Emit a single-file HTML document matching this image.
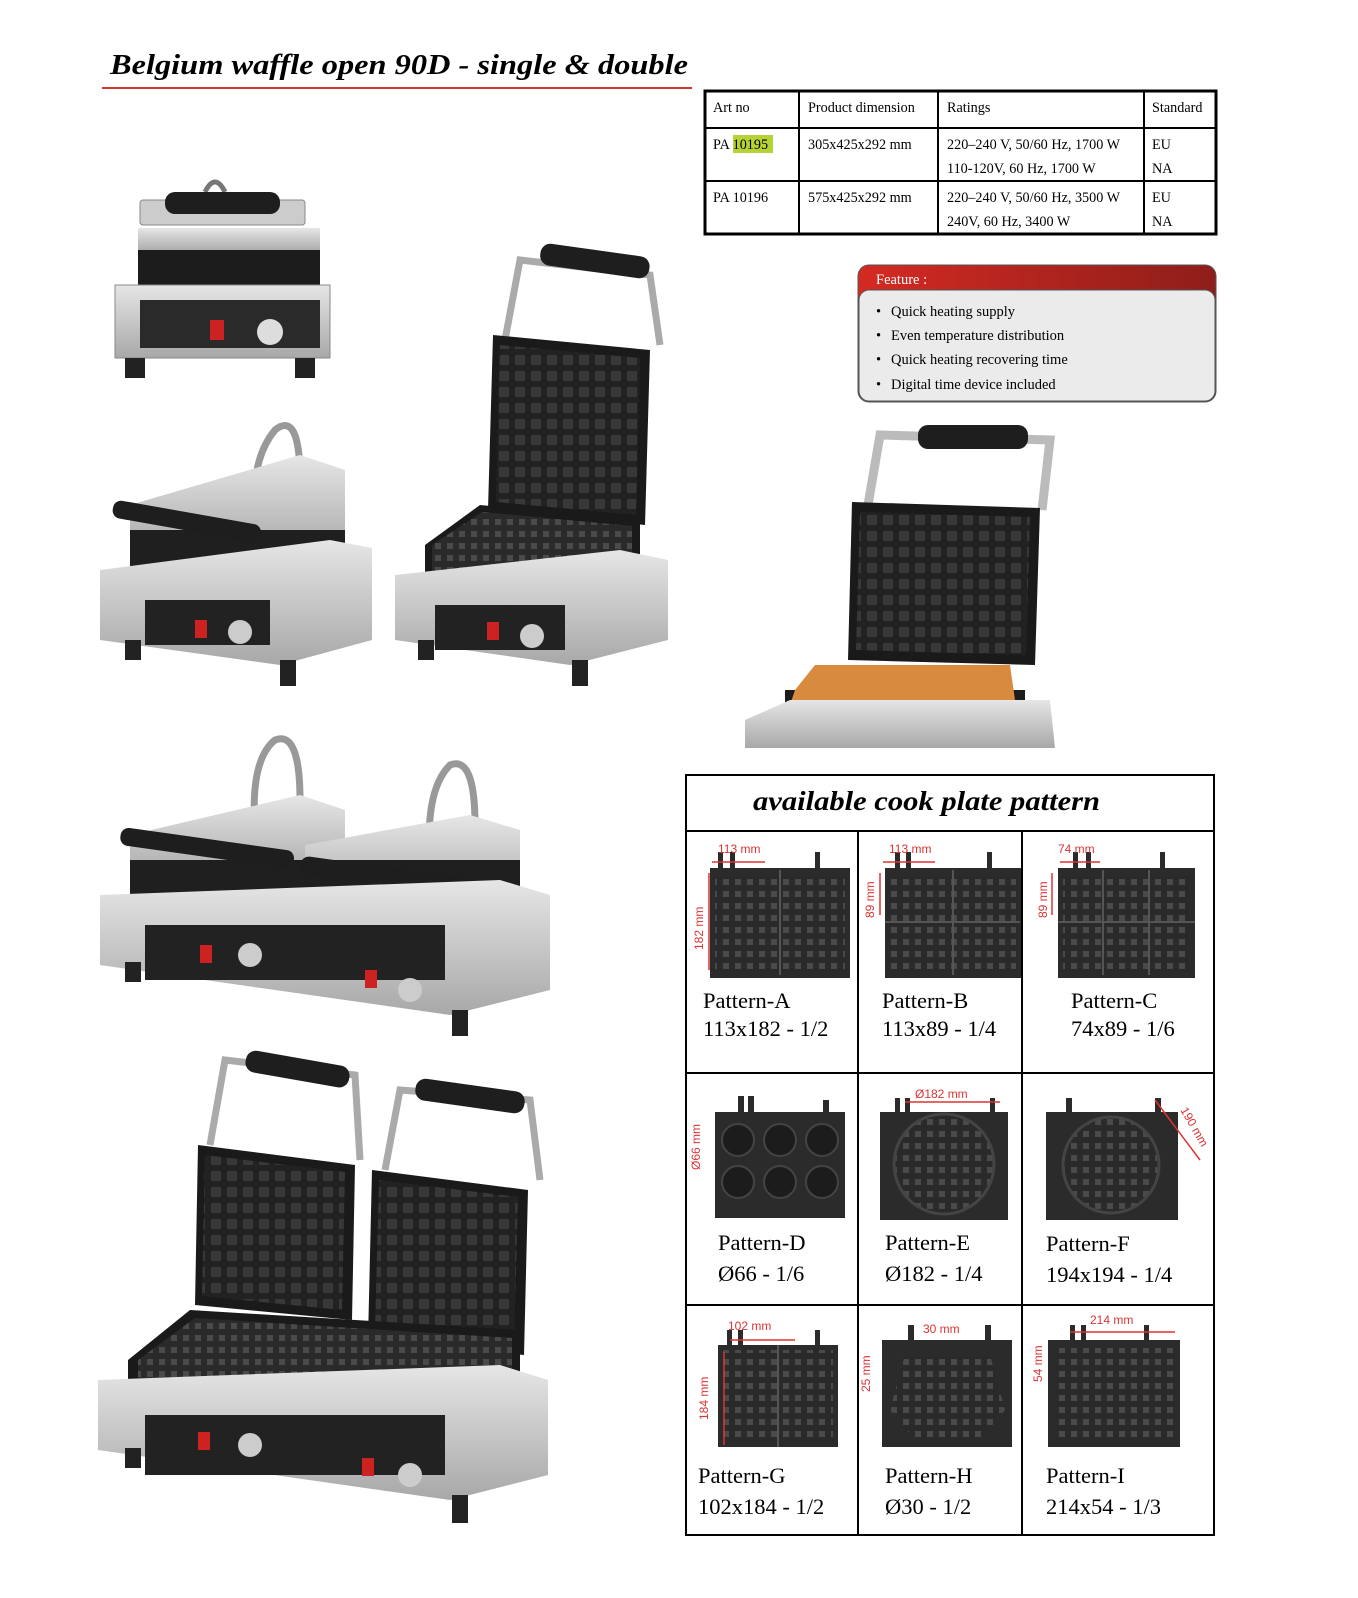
<!DOCTYPE html>
<html><head><meta charset="utf-8"><style>
html,body{margin:0;padding:0;background:#fff}
svg{display:block}
.s{font-family:"Liberation Serif",serif}
</style></head><body>
<svg width="1358" height="1598" viewBox="0 0 1358 1598" xmlns="http://www.w3.org/2000/svg" class="s">
<defs>
<pattern id="grid" width="12" height="12" patternUnits="userSpaceOnUse"><rect width="12" height="12" fill="#2a2a2a"/><rect x="3" y="3" width="6" height="6" fill="#4a4a4a"/></pattern>
<pattern id="grid2" width="16" height="16" patternUnits="userSpaceOnUse"><rect width="16" height="16" fill="#222"/><rect x="3" y="3" width="10" height="10" fill="#383838"/></pattern>
<linearGradient id="red" x1="0" x2="1"><stop offset="0" stop-color="#d42a22"/><stop offset="1" stop-color="#8e1e1a"/></linearGradient>
<linearGradient id="steel" x1="0" x2="0" y1="0" y2="1"><stop offset="0" stop-color="#e6e6e6"/><stop offset="1" stop-color="#a8a8a8"/></linearGradient>
</defs>

<!-- Title -->
<text x="110" y="74" font-size="29" font-weight="bold" font-style="italic" textLength="578" lengthAdjust="spacingAndGlyphs">Belgium waffle open 90D - single &amp; double</text>
<rect x="102" y="87" width="590" height="2" fill="#d0392e"/>

<!-- Table -->
<g fill="none" stroke="#000">
<rect x="705" y="91" width="511" height="143" stroke-width="3"/>
<line x1="705" y1="128" x2="1216" y2="128" stroke-width="2"/>
<line x1="705" y1="181" x2="1216" y2="181" stroke-width="2"/>
<line x1="799" y1="91" x2="799" y2="234" stroke-width="2"/>
<line x1="938" y1="91" x2="938" y2="234" stroke-width="2"/>
<line x1="1144" y1="91" x2="1144" y2="234" stroke-width="2"/>
</g>
<rect x="733" y="135" width="40" height="18" fill="#b5d334"/>
<g font-size="14.2">
<text x="713" y="112">Art no</text><text x="808" y="112">Product dimension</text><text x="947" y="112">Ratings</text><text x="1152" y="112">Standard</text>
<text x="713" y="149">PA 10195</text><text x="808" y="149">305x425x292 mm</text><text x="947" y="149">220–240 V, 50/60 Hz, 1700 W</text><text x="947" y="173">110-120V, 60 Hz, 1700 W</text><text x="1152" y="149">EU</text><text x="1152" y="173">NA</text>
<text x="713" y="202">PA 10196</text><text x="808" y="202">575x425x292 mm</text><text x="947" y="202">220–240 V, 50/60 Hz, 3500 W</text><text x="947" y="226">240V, 60 Hz, 3400 W</text><text x="1152" y="202">EU</text><text x="1152" y="226">NA</text>
</g>

<!-- Feature -->
<rect x="858" y="265" width="358" height="137" rx="11" fill="url(#red)" stroke="#555"/>
<rect x="859" y="290" width="356" height="111" rx="10" fill="#ebebeb" stroke="#555"/>
<text x="876" y="284" font-size="14.5" fill="#fff">Feature :</text>
<g font-size="14.5"><text x="876" y="316">•</text><text x="891" y="316">Quick heating supply</text>
<text x="876" y="340">•</text><text x="891" y="340">Even temperature distribution</text>
<text x="876" y="364">•</text><text x="891" y="364">Quick heating recovering time</text>
<text x="876" y="389">•</text><text x="891" y="389">Digital time device included</text></g>

<!-- Machine 1: front view -->
<g>
<path d="M205 192 q10-20 20 0" stroke="#777" stroke-width="5" fill="none"/>
<rect x="140" y="200" width="165" height="25" rx="3" fill="#ccc" stroke="#888"/>
<rect x="165" y="192" width="115" height="22" rx="10" fill="#1e1e1e"/>
<rect x="138" y="228" width="182" height="24" fill="url(#steel)"/>
<rect x="138" y="250" width="182" height="35" fill="#1c1c1c"/>
<rect x="115" y="285" width="215" height="73" fill="url(#steel)" stroke="#888"/>
<rect x="140" y="300" width="180" height="48" fill="#2a2a2a"/>
<rect x="210" y="320" width="14" height="20" fill="#c22"/>
<circle cx="270" cy="332" r="13" fill="#ddd"/>
<rect x="125" y="358" width="20" height="20" fill="#222"/><rect x="295" y="358" width="20" height="20" fill="#222"/>
</g>

<!-- Machine 2: single closed -->
<g>
<path d="M255 520 q-5-60 20-90 q25-20 25 50" stroke="#999" stroke-width="7" fill="none"/>
<polygon points="130,505 300,455 345,470 345,545 130,555" fill="url(#steel)"/>
<rect x="130" y="530" width="215" height="60" fill="#1f1f1f"/>
<rect x="112" y="512" width="150" height="18" rx="8" fill="#1e1e1e" transform="rotate(10 185 520)"/>
<polygon points="100,570 330,540 372,548 372,640 280,665 100,640" fill="url(#steel)"/>
<rect x="145" y="600" width="125" height="45" fill="#222"/>
<rect x="195" y="620" width="12" height="18" fill="#c22"/><circle cx="240" cy="632" r="12" fill="#ccc"/>
<rect x="125" y="640" width="16" height="20" fill="#222"/><rect x="280" y="660" width="16" height="26" fill="#222"/>
</g>

<!-- Machine 3: single open -->
<g>
<path d="M505 340 L520 260 L650 275 L660 345" stroke="#aaa" stroke-width="7" fill="none"/>
<rect x="540" y="250" width="110" height="22" rx="10" fill="#1e1e1e" transform="rotate(8 595 260)"/>
<polygon points="493,335 650,350 645,525 488,510" fill="#1a1a1a"/>
<polygon points="500,345 640,358 636,515 496,502" fill="url(#grid2)"/>
<polygon points="425,545 480,505 640,520 640,580 425,580" fill="#1a1a1a"/>
<polygon points="432,545 482,512 632,526 632,572 432,572" fill="url(#grid)"/>
<polygon points="395,575 620,550 668,560 668,640 570,665 395,640" fill="url(#steel)"/>
<rect x="435" y="605" width="130" height="45" fill="#222"/>
<rect x="487" y="622" width="12" height="18" fill="#c22"/><circle cx="532" cy="636" r="12" fill="#ccc"/>
<rect x="418" y="640" width="16" height="20" fill="#222"/><rect x="572" y="660" width="16" height="26" fill="#222"/>
</g>

<!-- Machine 4: big open photo -->
<g>
<path d="M868 505 L880 435 L1050 440 L1042 510" stroke="#bbb" stroke-width="9" fill="none"/>
<rect x="918" y="425" width="110" height="24" rx="10" fill="#1e1e1e"/>
<polygon points="852,502 1040,508 1035,665 848,660" fill="#1a1a1a"/>
<polygon points="860,512 1030,517 1026,655 856,650" fill="url(#grid2)"/>
<rect x="785" y="690" width="240" height="30" fill="#1c1c1c"/>
<polygon points="795,690 815,665 1010,665 1015,700 790,705" fill="#d88a3f"/>
<polygon points="745,720 790,700 1050,700 1055,748 745,748" fill="url(#steel)"/>
</g>

<!-- Machine 5: double closed -->
<g>
<path d="M255 830 q-5-70 20-90 q25-10 25 60" stroke="#999" stroke-width="7" fill="none"/>
<path d="M430 860 q-5-70 20-95 q25-10 25 60" stroke="#999" stroke-width="7" fill="none"/>
<polygon points="130,835 300,795 345,810 345,880 130,880" fill="url(#steel)"/>
<polygon points="305,845 470,815 520,830 520,900 305,905" fill="url(#steel)"/>
<rect x="130" y="860" width="390" height="50" fill="#1f1f1f"/>
<rect x="120" y="838" width="175" height="18" rx="8" fill="#1e1e1e" transform="rotate(8 200 845)"/>
<rect x="300" y="868" width="175" height="18" rx="8" fill="#1e1e1e" transform="rotate(8 390 875)"/>
<polygon points="100,895 500,880 550,895 550,990 450,1015 100,965" fill="url(#steel)"/>
<rect x="145" y="925" width="300" height="55" fill="#222"/>
<rect x="200" y="945" width="12" height="18" fill="#c22"/><circle cx="250" cy="955" r="12" fill="#ccc"/>
<rect x="365" y="970" width="12" height="18" fill="#c22"/><circle cx="410" cy="990" r="12" fill="#ccc"/>
<rect x="125" y="962" width="16" height="20" fill="#222"/><rect x="452" y="1010" width="16" height="26" fill="#222"/>
</g>

<!-- Machine 6: double open -->
<g>
<path d="M210 1145 L225 1060 L355 1075 L360 1160" stroke="#aaa" stroke-width="7" fill="none"/>
<path d="M385 1170 L400 1090 L530 1100 L540 1180" stroke="#aaa" stroke-width="7" fill="none"/>
<rect x="245" y="1058" width="105" height="22" rx="10" fill="#1e1e1e" transform="rotate(10 297 1069)"/>
<rect x="415" y="1085" width="110" height="22" rx="10" fill="#1e1e1e" transform="rotate(8 470 1096)"/>
<polygon points="198,1145 355,1165 352,1320 195,1305" fill="#1a1a1a"/>
<polygon points="205,1155 345,1172 342,1310 202,1296" fill="url(#grid2)"/>
<polygon points="372,1170 528,1190 524,1355 368,1340" fill="#1a1a1a"/>
<polygon points="379,1180 518,1197 514,1345 375,1330" fill="url(#grid2)"/>
<polygon points="128,1360 190,1310 520,1330 520,1400 128,1400" fill="#1a1a1a"/>
<polygon points="138,1360 195,1318 512,1338 512,1392 138,1392" fill="url(#grid)"/>
<polygon points="98,1380 500,1365 548,1380 548,1475 450,1500 98,1450" fill="url(#steel)"/>
<rect x="145" y="1415" width="300" height="60" fill="#222"/>
<rect x="198" y="1432" width="12" height="18" fill="#c22"/><circle cx="250" cy="1445" r="12" fill="#ccc"/>
<rect x="362" y="1458" width="12" height="18" fill="#c22"/><circle cx="410" cy="1475" r="12" fill="#ccc"/>
<rect x="125" y="1448" width="16" height="20" fill="#222"/><rect x="452" y="1495" width="16" height="28" fill="#222"/>
</g>

<!-- Pattern grid -->
<g fill="none" stroke="#000" stroke-width="2">
<rect x="686" y="775" width="528" height="760"/>
<line x1="686" y1="831" x2="1214" y2="831"/>
<line x1="686" y1="1073" x2="1214" y2="1073"/>
<line x1="686" y1="1305" x2="1214" y2="1305"/>
<line x1="858" y1="831" x2="858" y2="1535"/>
<line x1="1022" y1="831" x2="1022" y2="1535"/>
</g>
<text x="753" y="810" font-size="27" font-weight="bold" font-style="italic" textLength="347" lengthAdjust="spacingAndGlyphs">available cook plate pattern</text>

<g fill="#2b2b2b">
<rect x="710" y="868" width="140" height="110"/><rect x="885" y="868" width="136" height="110"/><rect x="1058" y="868" width="137" height="110"/>
<rect x="715" y="1112" width="130" height="106"/><rect x="880" y="1112" width="128" height="108"/><rect x="1046" y="1112" width="132" height="108"/>
<rect x="718" y="1345" width="120" height="102"/><rect x="882" y="1340" width="130" height="107"/><rect x="1048" y="1340" width="132" height="107"/>
</g>
<g fill="url(#grid)">
<rect x="715" y="875" width="130" height="98"/><rect x="890" y="875" width="126" height="98"/><rect x="1063" y="875" width="127" height="98"/>
<rect x="723" y="1350" width="110" height="92"/>
</g>
<g stroke="#555" stroke-width="2" fill="none">
<line x1="780" y1="870" x2="780" y2="975"/><line x1="953" y1="870" x2="953" y2="975"/><line x1="885" y1="922" x2="1020" y2="922"/>
<line x1="1103" y1="870" x2="1103" y2="975"/><line x1="1149" y1="870" x2="1149" y2="975"/><line x1="1058" y1="922" x2="1195" y2="922"/>
<line x1="778" y1="1345" x2="778" y2="1447"/>
</g>
<g fill="#1c1c1c" stroke="#444" stroke-width="2">
<circle cx="738" cy="1140" r="16"/><circle cx="780" cy="1140" r="16"/><circle cx="822" cy="1140" r="16"/>
<circle cx="738" cy="1182" r="16"/><circle cx="780" cy="1182" r="16"/><circle cx="822" cy="1182" r="16"/>
</g>
<circle cx="944" cy="1164" r="50" fill="url(#grid)" stroke="#444" stroke-width="3"/>
<circle cx="1111" cy="1165" r="48" fill="url(#grid)" stroke="#444" stroke-width="3"/>
<polygon points="905,1355 990,1355 1005,1410 980,1440 915,1440 890,1410" fill="url(#grid)"/>
<rect x="1055" y="1348" width="120" height="92" fill="url(#grid)"/>
<g fill="#2b2b2b">
<rect x="738" y="1096" width="6" height="18"/><rect x="748" y="1096" width="6" height="18"/><rect x="823" y="1100" width="6" height="14"/>
<rect x="718" y="852" width="5" height="18"/><rect x="730" y="852" width="5" height="18"/><rect x="815" y="852" width="5" height="18"/>
<rect x="895" y="852" width="5" height="18"/><rect x="906" y="852" width="5" height="18"/><rect x="987" y="852" width="5" height="18"/>
<rect x="1073" y="852" width="5" height="18"/><rect x="1086" y="852" width="5" height="18"/><rect x="1160" y="852" width="5" height="18"/>
<rect x="895" y="1098" width="5" height="16"/><rect x="905" y="1098" width="5" height="16"/><rect x="990" y="1098" width="5" height="16"/>
<rect x="1066" y="1098" width="6" height="16"/><rect x="1155" y="1098" width="6" height="16"/>
<rect x="727" y="1330" width="5" height="16"/><rect x="738" y="1330" width="5" height="16"/><rect x="815" y="1330" width="5" height="16"/>
<rect x="908" y="1325" width="6" height="16"/><rect x="985" y="1325" width="6" height="16"/>
<rect x="1070" y="1325" width="5" height="16"/><rect x="1081" y="1325" width="5" height="16"/><rect x="1144" y="1325" width="5" height="16"/>
</g>
<!-- dimension labels -->
<g fill="#d33" font-family="Liberation Sans,sans-serif" font-size="12">
<text x="718" y="853">113 mm</text><text x="889" y="853">113 mm</text><text x="1058" y="853">74 mm</text>
<text x="915" y="1098">Ø182 mm</text><text x="728" y="1330">102 mm</text><text x="923" y="1333">30 mm</text><text x="1090" y="1324">214 mm</text>
<text transform="translate(703,950) rotate(-90)">182 mm</text><text transform="translate(874,918) rotate(-90)">89 mm</text><text transform="translate(1047,918) rotate(-90)">89 mm</text>
<text transform="translate(700,1170) rotate(-90)">Ø66 mm</text><text transform="translate(708,1420) rotate(-90)">184 mm</text><text transform="translate(870,1392) rotate(-90)">25 mm</text><text transform="translate(1042,1382) rotate(-90)">54 mm</text>
<text transform="translate(1180,1110) rotate(60)">190 mm</text>
</g>
<g stroke="#d33" stroke-width="1.5">
<line x1="712" y1="862" x2="765" y2="862"/><line x1="709" y1="873" x2="709" y2="970"/>
<line x1="883" y1="862" x2="935" y2="862"/><line x1="880" y1="873" x2="880" y2="915"/>
<line x1="1060" y1="862" x2="1100" y2="862"/><line x1="1052" y1="873" x2="1052" y2="915"/>
<line x1="905" y1="1102" x2="1000" y2="1102"/><line x1="1155" y1="1100" x2="1200" y2="1160"/>
<line x1="730" y1="1340" x2="795" y2="1340"/><line x1="724" y1="1352" x2="724" y2="1445"/>
<line x1="1070" y1="1332" x2="1175" y2="1332"/>
</g>
<g font-size="22.5">
<text x="703" y="1008">Pattern-A</text><text x="703" y="1036">113x182 - 1/2</text>
<text x="882" y="1008">Pattern-B</text><text x="882" y="1036">113x89 - 1/4</text>
<text x="1071" y="1008">Pattern-C</text><text x="1071" y="1036">74x89 - 1/6</text>
<text x="718" y="1250">Pattern-D</text><text x="718" y="1281">Ø66 - 1/6</text>
<text x="885" y="1250">Pattern-E</text><text x="885" y="1281">Ø182 - 1/4</text>
<text x="1046" y="1251">Pattern-F</text><text x="1046" y="1282">194x194 - 1/4</text>
<text x="698" y="1483">Pattern-G</text><text x="698" y="1514">102x184 - 1/2</text>
<text x="885" y="1483">Pattern-H</text><text x="885" y="1514">Ø30 - 1/2</text>
<text x="1046" y="1483">Pattern-I</text><text x="1046" y="1514">214x54 - 1/3</text>
</g>
</svg>
</body></html>
